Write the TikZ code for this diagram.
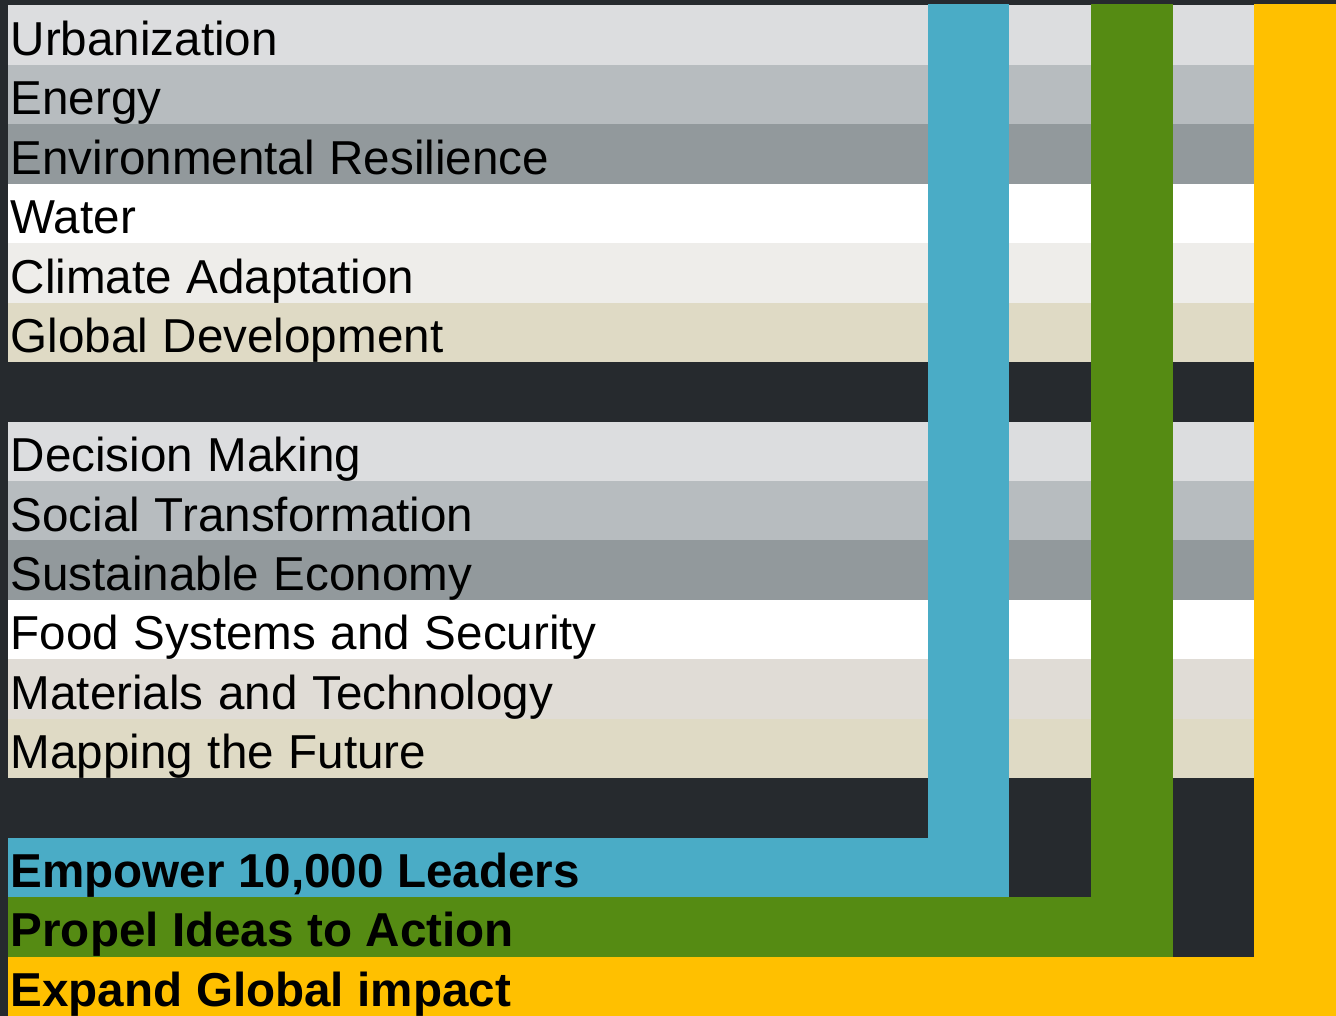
\documentclass[tikz,border=0pt]{standalone}
\usepackage{fontspec}
\setmainfont{Liberation Sans}
\definecolor{bgdark}{HTML}{262A2E}
\definecolor{rowA}{HTML}{DCDDDF}
\definecolor{rowB}{HTML}{B7BCBF}
\definecolor{rowC}{HTML}{92999C}
\definecolor{rowD}{HTML}{FFFFFF}
\definecolor{rowE}{HTML}{EEEDEA}
\definecolor{rowF}{HTML}{DFDAC5}
\definecolor{rowG}{HTML}{E0DCD6}
\definecolor{cblue}{HTML}{4AACC6}
\definecolor{cgreen}{HTML}{558B13}
\definecolor{cyellow}{HTML}{FFC000}
\tikzset{
  rowbox/.style={anchor=north west, inner ysep=0pt, inner xsep=2.5pt,
    text width=1242pt, align=left, text height=50pt, text depth=9.5pt,
    font=\fontsize{47.6pt}{57pt}\selectfont, text=black,
    execute at begin node={\spaceskip=14.6pt\relax}},
  barbox/.style={anchor=north west, inner ysep=0pt, inner xsep=2.5pt,
    align=left, text height=49.5pt, text depth=10pt,
    font=\fontsize{47.6pt}{57pt}\selectfont\bfseries, text=black,
    execute at begin node={\spaceskip=13.4pt\relax}},
  colbox/.style={anchor=north west, inner sep=0pt}
}
\begin{document}
\begin{tikzpicture}[x=1pt,y=-1pt]
\fill[bgdark] (0,0) rectangle (1336,1016);
\useasboundingbox (0,0) rectangle (1336,1016);
% topic rows
\node[rowbox, fill=rowA] (r1) at (8,5) {Urbanization};
\node[rowbox, fill=rowB] (r2) at (8,64.5) {Energy};
\node[rowbox, fill=rowC] (r3) at (8,124) {Environmental Resilience};
\node[rowbox, fill=rowD] (r4) at (8,183.4) {Water};
\node[rowbox, fill=rowE] (r5) at (8,242.9) {Climate Adaptation};
\node[rowbox, fill=rowF] (r6) at (8,302.4) {Global Development};
\node[rowbox, fill=rowA] (r7) at (8,421.3) {Decision Making};
\node[rowbox, fill=rowB] (r8) at (8,480.8) {Social Transformation};
\node[rowbox, fill=rowC] (r9) at (8,540.2) {Sustainable Economy};
\node[rowbox, fill=rowD] (r10) at (8,599.7) {Food Systems and Security};
\node[rowbox, fill=rowG] (r11) at (8,659.2) {Materials and Technology};
\node[rowbox, fill=rowF] (r12) at (8,718.6) {Mapping the Future};
% vertical columns
\node[colbox, fill=cblue, minimum width=81pt, minimum height=893pt] (bluecol) at (928,4) {};
\node[colbox, fill=cgreen, minimum width=82pt, minimum height=953pt] (greencol) at (1091,4) {};
\node[colbox, fill=cyellow, minimum width=82pt, minimum height=1012pt] (yellowcol) at (1254,4) {};
% horizontal bars
\node[barbox, fill=cblue, text width=996pt, minimum height=59.5pt] (bluebar) at (8,837.6) {Empower 10,000 Leaders};
\node[barbox, fill=cgreen, text width=1160pt, minimum height=59.5pt] (greenbar) at (8,897) {Propel Ideas to Action};
\node[barbox, fill=cyellow, text width=1323pt, minimum height=59.5pt] (yellowbar) at (8,956.5) {Expand Global impact};
\end{tikzpicture}
\end{document}
